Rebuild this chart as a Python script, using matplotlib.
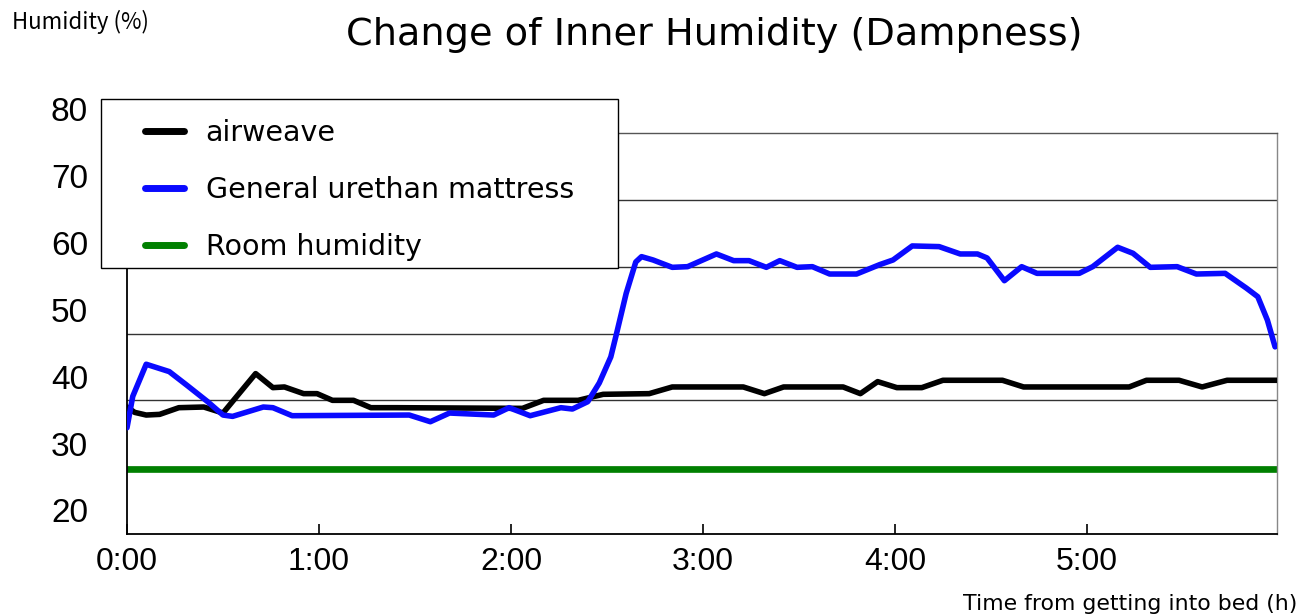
import numpy as np
import matplotlib
matplotlib.use('Agg')
import matplotlib.pyplot as plt
from matplotlib.patches import Rectangle

plt.rcParams["font.family"] = ["DejaVu Sans"]

# Hours from getting into bed, and humidity (%)
airweave_t = [0.00, 0.04, 0.10, 0.17, 0.27, 0.40, 0.50, 0.67, 0.76, 0.82, 0.92, 0.99,
              1.07, 1.18, 1.27, 1.40, 2.06, 2.17, 2.35, 2.48, 2.72, 2.84, 3.21, 3.32,
              3.42, 3.73, 3.82, 3.91, 4.01, 4.14, 4.25, 4.56, 4.67, 5.22, 5.31, 5.48,
              5.60, 5.73, 5.99]
airweave_h = [36.0, 35.2, 34.8, 34.9, 35.9, 36.0, 35.1, 41.0, 38.9, 39.0, 38.0, 38.0,
              37.0, 37.0, 35.9, 35.9, 35.8, 37.0, 37.0, 37.9, 38.0, 39.0, 39.0, 38.0,
              39.0, 39.0, 38.0, 39.8, 38.9, 38.9, 40.0, 40.0, 39.0, 39.0, 40.0, 40.0,
              39.0, 40.0, 40.0]

urethan_t = [0.00, 0.03, 0.10, 0.22, 0.31, 0.42, 0.50, 0.55, 0.71, 0.76, 0.86, 1.47,
             1.58, 1.68, 1.91, 1.99, 2.10, 2.26, 2.32, 2.40, 2.46, 2.52, 2.55, 2.60,
             2.65, 2.68, 2.74, 2.84, 2.92, 3.07, 3.16, 3.24, 3.33, 3.40, 3.49, 3.57,
             3.66, 3.80, 3.92, 3.99, 4.09, 4.23, 4.34, 4.43, 4.48, 4.57, 4.66, 4.74,
             4.96, 5.03, 5.16, 5.24, 5.33, 5.47, 5.57, 5.72, 5.83, 5.89, 5.94, 5.98]
urethan_h = [32.9, 37.6, 42.4, 41.3, 39.3, 36.8, 34.8, 34.6, 36.0, 35.9, 34.7, 34.8,
             33.8, 35.1, 34.8, 35.9, 34.7, 35.9, 35.7, 36.8, 39.6, 43.5, 47.0, 53.0,
             57.7, 58.5, 58.0, 56.9, 57.0, 58.9, 57.9, 57.9, 56.9, 57.9, 56.9, 57.0,
             55.9, 55.9, 57.3, 58.0, 60.1, 60.0, 58.9, 58.9, 58.3, 54.9, 57.0, 56.0,
             56.0, 57.0, 59.9, 59.0, 56.9, 57.0, 55.9, 56.0, 53.8, 52.5, 49.0, 45.0]

room_t = [0.0, 6.0]
room_h = [26.7, 26.7]

y_labels = [20, 30, 40, 50, 60, 70, 80]
x_ticks = [0, 1, 2, 3, 4, 5]
x_labels = ["0:00", "1:00", "2:00", "3:00", "4:00", "5:00"]

W, H = 1307, 616
fig = plt.figure(figsize=(W / 100, H / 100), dpi=100)
ax = fig.add_axes([127/W, 1 - 534/H, 1150/W, 401/H])

# gridlines (offset from the labels, as in the original)
for g in [27, 37, 47, 57, 67]:
    ax.axhline(g, color="#333333", linewidth=1.0, zorder=1)

ax.plot(airweave_t, airweave_h, color="black", linewidth=4.0, solid_joinstyle="round",
        solid_capstyle="round", label="airweave", zorder=3)
ax.plot(urethan_t, urethan_h, color="#0a0aff", linewidth=4.0, solid_joinstyle="round",
        solid_capstyle="round", label="General urethan mattress", zorder=3)
ax.plot(room_t, room_h, color="#008000", linewidth=4.8, label="Room humidity", zorder=2)

ax.set_xlim(0, 5.99)
ax.set_ylim(17, 77)

ax.spines["left"].set_color("black")
ax.spines["bottom"].set_color("black")
ax.spines["left"].set_linewidth(1.3)
ax.spines["bottom"].set_linewidth(1.3)
ax.spines["right"].set_color("#888888")
ax.spines["top"].set_color("#555555")
ax.spines["right"].set_linewidth(1.0)
ax.spines["top"].set_linewidth(1.0)

ax.set_yticks([])
ax.set_xticks(x_ticks)
ax.set_xticklabels(x_labels, fontsize=23, family="Liberation Sans")
ax.tick_params(axis="x", direction="in", length=7, width=1.2, pad=9)

trans = matplotlib.transforms.blended_transform_factory(ax.transAxes, ax.transData)
for v in y_labels:
    ax.text(-0.034, v, str(v), transform=trans, ha="right", va="center",
            fontsize=24, family="Liberation Sans", clip_on=False)

# legend box drawn separately so the padding can match the original
box = Rectangle((101/W, 1 - 268/H), 517/W, 169/H, transform=fig.transFigure,
                facecolor="white", edgecolor="black", linewidth=1.0, zorder=4, clip_on=False)
ax.add_patch(box)
leg = ax.legend(loc="upper left", bbox_to_anchor=(144.5/W, 1 - 119/H),
                bbox_transform=fig.transFigure, fontsize=20.5, frameon=False,
                borderpad=0, handlelength=1.4, handletextpad=0.75, labelspacing=1.02,
                borderaxespad=0)
leg.set_zorder(5)
for line in leg.get_lines():
    line.set_linewidth(5)
    line.set_solid_capstyle("round")

fig.text(714/W, 1 - 35/H, "Change of Inner Humidity (Dampness)", ha="center",
         va="center", fontsize=27.5)
fig.text(12/W, 1 - 22/H, "Humidity (%)", ha="left", va="center", fontsize=16,
         family=["Noto Sans CJK JP", "DejaVu Sans"])
fig.text(1297/W, 1 - 604/H, "Time from getting into bed (h)", ha="right",
         va="center", fontsize=15.8)

plt.savefig("out.png", dpi=100)
plt.close()
